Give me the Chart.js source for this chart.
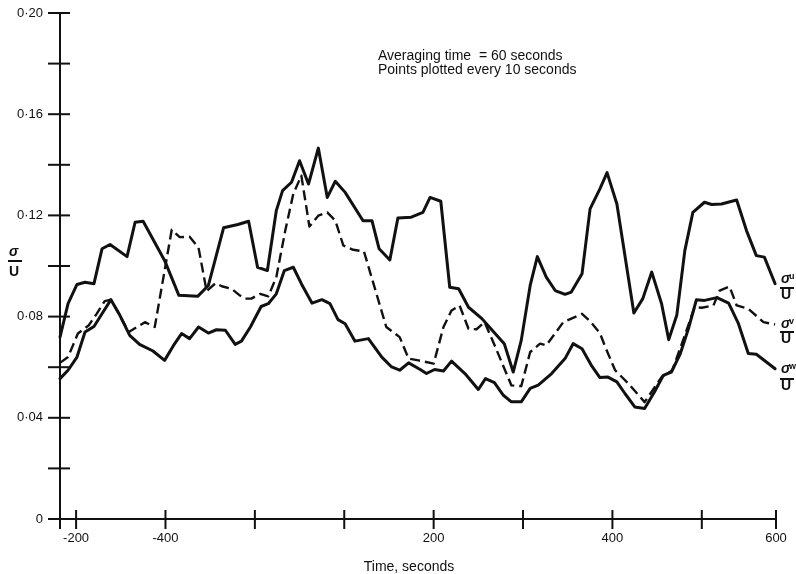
<!DOCTYPE html>
<html>
<head>
<meta charset="utf-8">
<script src="https://cdn.jsdelivr.net/npm/chart.js@4.4.1/dist/chart.umd.min.js"></script>
<style>
  html, body { margin: 0; padding: 0; background: #fff; }
  #wrap { width: 796px; height: 574px; }
</style>
</head>
<body>
<div id="wrap"><canvas id="c" width="796" height="574"></canvas></div>
<script>
// ---- data (time in seconds, value sigma / U) ----
const uTimes = [-218,-209,-199,-190,-180,-171,-162,-143,-134,-125,-101,-85,-64,-52,-35,-19,-7,3,14,24,31,41,50,60,71,81,90,101,121,131,139,151,160,175,188,196,208,218,228,239,254,259,279,289,298,308,316,326,336,347,354,366,375,386,394,405,424,434,444,455,463,472,481,490,503,511,522,539,550,561,570,582];
const uValues = [0.0719,0.0851,0.0927,0.0936,0.0930,0.1068,0.1085,0.1037,0.1173,0.1177,0.1022,0.0884,0.0880,0.0923,0.1151,0.1164,0.1177,0.0995,0.0982,0.1219,0.1298,0.1331,0.1416,0.1324,0.1466,0.1271,0.1335,0.1291,0.1179,0.1179,0.1068,0.1024,0.1190,0.1193,0.1212,0.1271,0.1256,0.0916,0.0910,0.0837,0.0792,0.0772,0.0693,0.0581,0.0706,0.0923,0.1037,0.0956,0.0903,0.0888,0.0897,0.0969,0.1226,0.1305,0.1369,0.1245,0.0814,0.0871,0.0976,0.0851,0.0709,0.0805,0.1061,0.1212,0.1252,0.1243,0.1245,0.1261,0.1140,0.1041,0.1035,0.0930];

const vTimes = [-218,-209,-198,-186,-177,-168,-161,-141,-123,-112,-93,-84,-73,-63,-54,-44,-37,-26,-17,-11,-4,6,15,24,34,43,52,61,71,81,90,99,110,122,147,162,172,183,200,211,220,229,239,248,257,269,287,298,308,319,326,345,366,375,386,392,403,418,436,455,467,483,492,500,513,520,531,539,552,569,582];
const vValues = [0.0617,0.0640,0.0733,0.0765,0.0811,0.0861,0.0867,0.0739,0.0778,0.0759,0.1143,0.1114,0.1116,0.1072,0.0901,0.0932,0.0920,0.0910,0.0884,0.0871,0.0871,0.0890,0.0880,0.0956,0.1140,0.1285,0.1357,0.1156,0.1199,0.1212,0.1179,0.1081,0.1064,0.1058,0.0759,0.0719,0.0634,0.0627,0.0614,0.0759,0.0824,0.0844,0.0752,0.0750,0.0778,0.0680,0.0528,0.0525,0.0660,0.0693,0.0686,0.0778,0.0811,0.0782,0.0735,0.0680,0.0588,0.0535,0.0462,0.0561,0.0588,0.0746,0.0837,0.0835,0.0844,0.0903,0.0919,0.0844,0.0831,0.0778,0.0769];

const wTimes = [-218,-209,-199,-190,-180,-171,-161,-151,-140,-129,-114,-101,-91,-82,-73,-63,-52,-43,-33,-22,-15,-5,7,15,24,33,43,52,64,75,84,93,101,112,127,142,153,162,172,185,192,201,211,220,235,250,258,268,278,287,298,308,317,332,347,356,366,377,386,395,405,414,425,436,447,457,466,476,485,494,503,517,530,541,552,561,582];
const wValues = [0.0555,0.0588,0.0640,0.0739,0.0761,0.0811,0.0867,0.0805,0.0726,0.0690,0.0664,0.0627,0.0686,0.0733,0.0713,0.0759,0.0735,0.0748,0.0746,0.0690,0.0703,0.0759,0.0840,0.0851,0.0890,0.0982,0.0995,0.0930,0.0853,0.0867,0.0851,0.0788,0.0772,0.0703,0.0713,0.0640,0.0601,0.0588,0.0617,0.0591,0.0575,0.0591,0.0585,0.0624,0.0575,0.0512,0.0555,0.0539,0.0489,0.0463,0.0463,0.0516,0.0529,0.0575,0.0634,0.0693,0.0673,0.0604,0.0559,0.0561,0.0542,0.0496,0.0443,0.0437,0.0502,0.0568,0.0581,0.0654,0.0752,0.0867,0.0864,0.0875,0.0853,0.0772,0.0654,0.0651,0.0594];

// tick values and labels (labels as printed in the original figure)
const xTickValues = [-200,-100,0,100,200,300,400,500,583];
const xTickLabels = ['-200','-400','','','200','','400','','600'];
const yTickValues = [0,0.02,0.04,0.06,0.08,0.10,0.12,0.14,0.16,0.18,0.20];
const yTickLabels = ['0','','0\u00b704','','0\u00b708','','0\u00b712','','0\u00b716','','0\u00b720'];

const seriesNames = ['\u03c3u / U', '\u03c3v / U', '\u03c3w / U'];
const noteLines = ['Averaging time  = 60 seconds', 'Points plotted every 10 seconds'];
const xTitle = 'Time, seconds';

const toPts = (ts, vs) => ts.map((t, i) => ({x: t, y: vs[i]}));
const INK = '#111';

function fraction(ctx, x, sigBase, barY, uBase, sub) {
  ctx.fillStyle = INK;
  ctx.font = 'italic bold 14px "Liberation Sans"';
  ctx.textAlign = 'left';
  ctx.textBaseline = 'alphabetic';
  ctx.fillText('\u03c3', x, sigBase);
  if (sub) {
    ctx.font = 'bold 9px "Liberation Sans"';
    ctx.fillText(sub, x + 8, sigBase - 4);
  }
  ctx.lineWidth = 2;
  ctx.strokeStyle = INK;
  ctx.beginPath();
  ctx.moveTo(x - 1, barY);
  ctx.lineTo(x + 13, barY);
  ctx.stroke();
  ctx.font = 'bold 14px "Liberation Sans"';
  ctx.fillText('U', x, uBase);
}

const decor = {
  id: 'decor',
  afterDatasetsDraw(chart) {
    const {ctx, chartArea: a, scales: {x, y}} = chart;
    ctx.save();
    ctx.strokeStyle = INK;
    ctx.lineWidth = 2;
    ctx.lineCap = 'butt';
    const seg = (x1, y1, x2, y2) => { ctx.beginPath(); ctx.moveTo(x1, y1); ctx.lineTo(x2, y2); ctx.stroke(); };
    // axes
    seg(a.left, a.top, a.left, a.bottom + 10);
    seg(a.left - 11, a.bottom, a.right, a.bottom);
    // tick marks crossing the axes
    y.ticks.forEach(t => { const py = y.getPixelForValue(t.value); seg(a.left - 12, py, a.left + 10, py); });
    x.ticks.forEach(t => { const px = x.getPixelForValue(t.value); seg(px, a.bottom - 9, px, a.bottom + 10); });

    // annotation
    ctx.fillStyle = INK;
    ctx.font = '14px "Liberation Sans"';
    ctx.textAlign = 'left';
    ctx.textBaseline = 'alphabetic';
    ctx.fillText(noteLines[0], 378, 60);
    ctx.fillText(noteLines[1], 378, 74);

    // x title
    ctx.textAlign = 'center';
    ctx.fillText(xTitle, 409, 571);

    // y title sigma / U
    fraction(ctx, 9, 256, 261, 276, '');
    // series labels
    fraction(ctx, 781, 283, 288, 299, 'u');
    fraction(ctx, 781, 328, 332, 343, 'v');
    fraction(ctx, 781, 373, 379, 390, 'w');
    ctx.restore();
  }
};

new Chart(document.getElementById('c'), {
  type: 'line',
  data: {
    datasets: [
      { label: seriesNames[0], data: toPts(uTimes, uValues), borderColor: INK, borderWidth: 3, pointRadius: 0, tension: 0, borderJoinStyle: 'round', borderCapStyle: 'round', clip: false },
      { label: seriesNames[1], data: toPts(vTimes, vValues), borderColor: INK, borderWidth: 2.4, borderDash: [10, 5], pointRadius: 0, tension: 0, borderJoinStyle: 'round', clip: false },
      { label: seriesNames[2], data: toPts(wTimes, wValues), borderColor: INK, borderWidth: 3, pointRadius: 0, tension: 0, borderJoinStyle: 'round', borderCapStyle: 'round', clip: false }
    ]
  },
  options: {
    responsive: false,
    devicePixelRatio: 1,
    animation: false,
    layout: { padding: { top: 13, right: 20, bottom: 0, left: 0 } },
    plugins: { legend: { display: false }, tooltip: { enabled: false } },
    scales: {
      x: {
        type: 'linear',
        min: -218,
        max: 583,
        grid: { display: false, drawTicks: false },
        border: { display: false },
        afterBuildTicks: s => { s.ticks = xTickValues.map(v => ({value: v})); },
        afterFit: s => { s.height = 55; s.paddingLeft = 0; s.paddingRight = 0; },
        ticks: {
          autoSkip: false,
          maxRotation: 0,
          padding: 12,
          color: INK,
          font: { family: 'Liberation Sans', size: 13 },
          callback: (v, i) => xTickLabels[i]
        }
      },
      y: {
        min: 0,
        max: 0.2,
        grid: { display: false, drawTicks: false },
        border: { display: false },
        afterBuildTicks: s => { s.ticks = yTickValues.map(v => ({value: v})); },
        afterFit: s => { s.width = 60; s.paddingTop = 0; s.paddingBottom = 0; },
        ticks: {
          autoSkip: false,
          padding: 17,
          color: INK,
          font: { family: 'Liberation Sans', size: 13 },
          callback: (v, i) => yTickLabels[i]
        }
      }
    }
  },
  plugins: [decor]
});
</script>
</body>
</html>
